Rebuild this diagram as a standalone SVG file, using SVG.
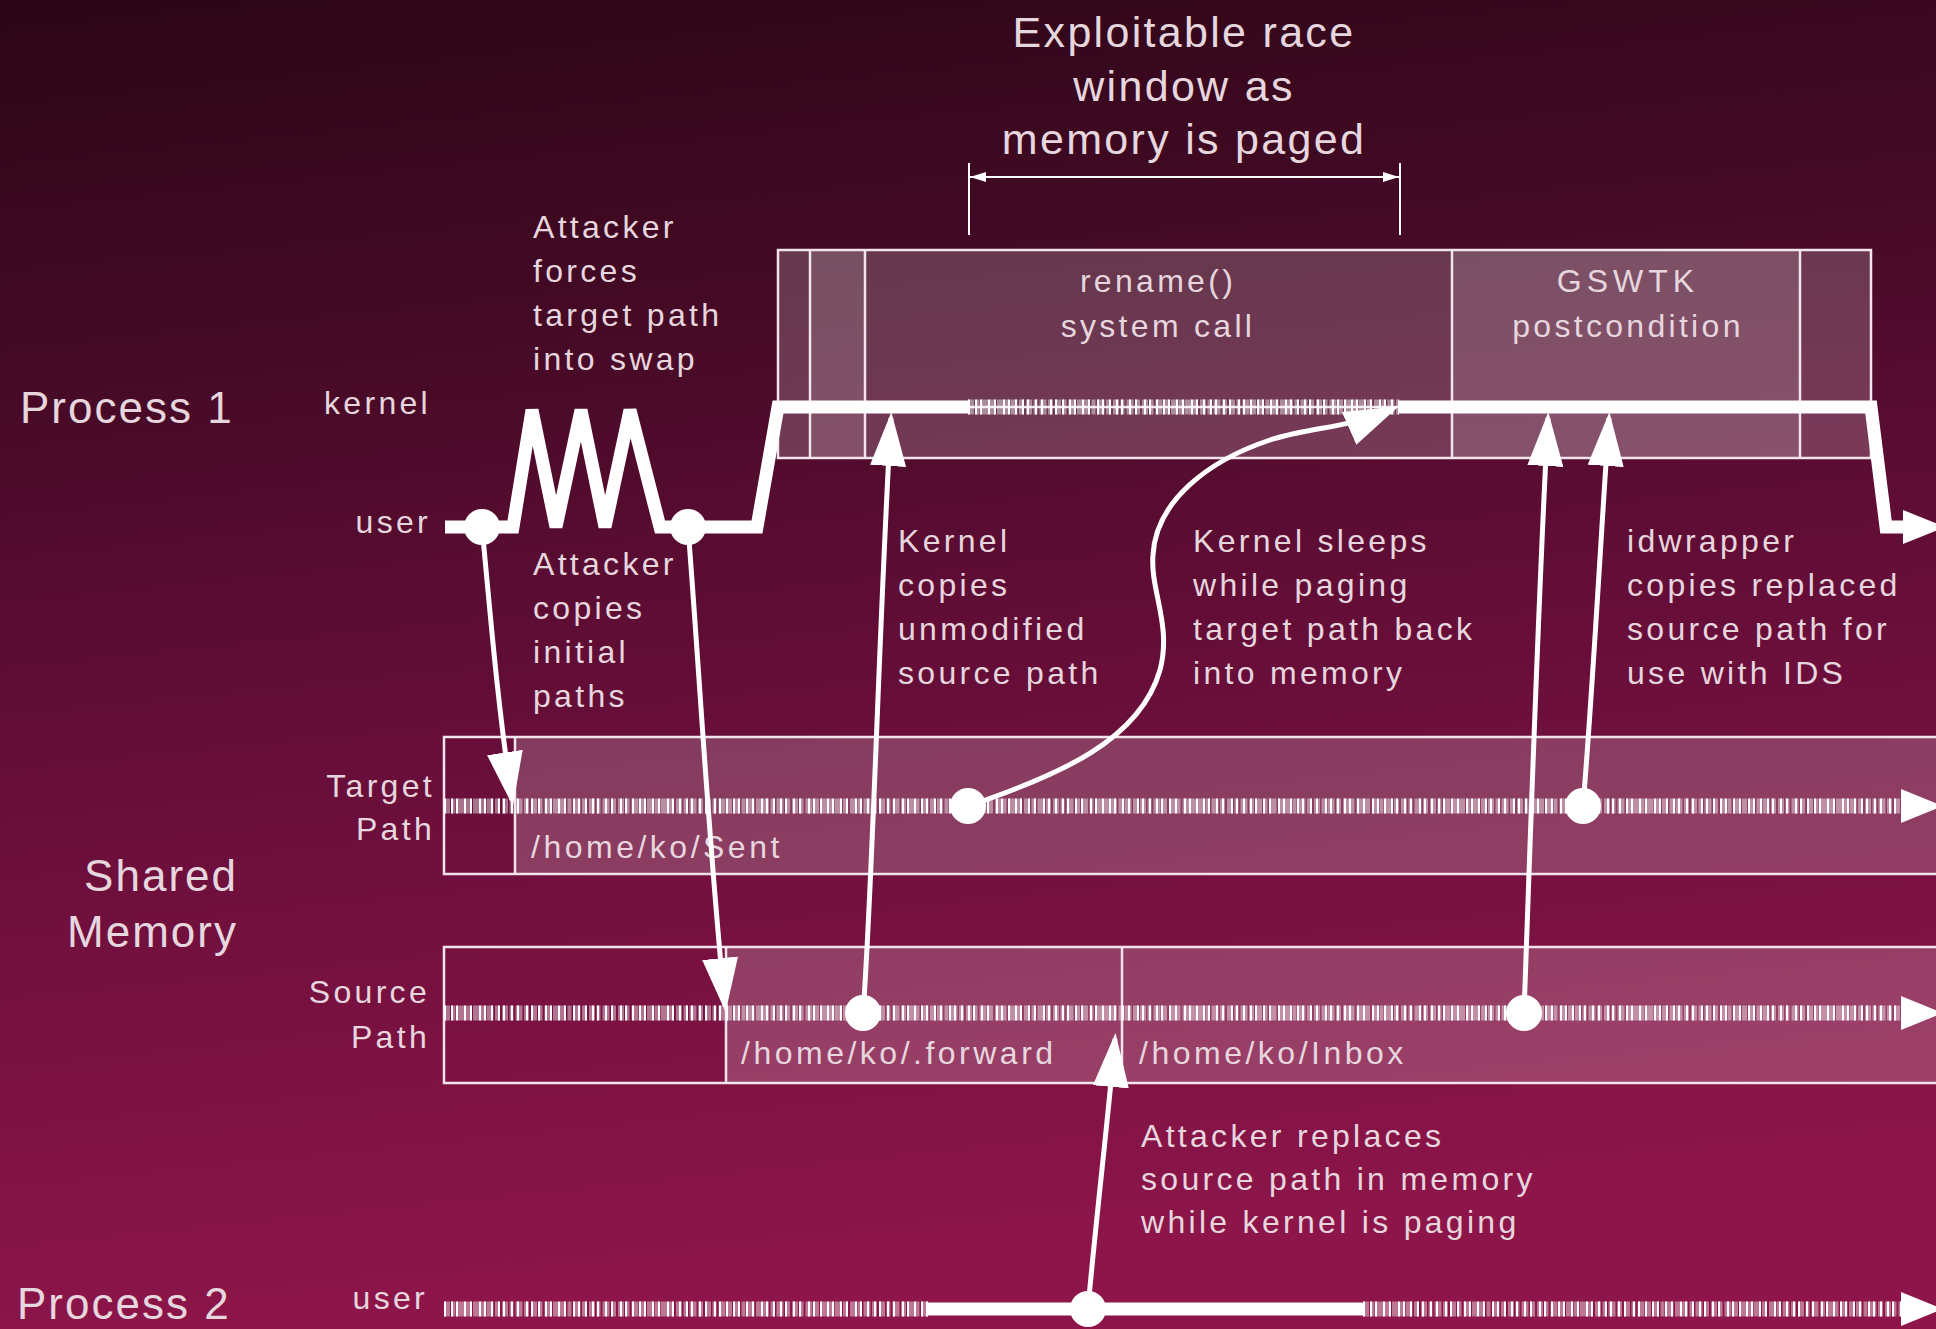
<svg xmlns="http://www.w3.org/2000/svg" width="1936" height="1329" viewBox="0 0 1936 1329">
<defs>
  <linearGradient id="bg" x1="0" y1="0" x2="0.15" y2="1">
    <stop offset="0" stop-color="#2c0616"/>
    <stop offset="0.3" stop-color="#470a27"/>
    <stop offset="0.6" stop-color="#690e3a"/>
    <stop offset="1" stop-color="#8d1549"/>
  </linearGradient>
  <marker id="ah" viewBox="0 0 54 36" markerWidth="54" markerHeight="36" markerUnits="userSpaceOnUse" refX="48" refY="18" orient="auto">
    <path d="M0,0 L54,18 L0,36 Z" fill="#fff"/>
  </marker>
  <marker id="tl" viewBox="0 0 42 34" markerWidth="42" markerHeight="34" markerUnits="userSpaceOnUse" refX="2" refY="17" orient="auto">
    <path d="M0,0 L42,17 L0,34 Z" fill="#fff"/>
  </marker>
  <marker id="dim" viewBox="0 0 16 10" markerWidth="16" markerHeight="10" markerUnits="userSpaceOnUse" refX="16" refY="5" orient="auto-start-reverse">
    <path d="M0,0 L16,5 L0,10 Z" fill="#fff"/>
  </marker>
</defs>
<style>
  .t { font-family: "Liberation Sans", Arial, sans-serif; font-size: 32px; letter-spacing: 3.3px; fill: #e6d6de; }
  .big { font-size: 44px; letter-spacing: 2px; }
  .title { font-size: 43px; letter-spacing: 2.3px; }
  .end { text-anchor: end; }
  .mid { text-anchor: middle; }
  .frame { fill: none; stroke: #f2e4ec; stroke-width: 2.5; }
  .div { stroke: #f2e4ec; stroke-width: 2.5; }
  .fill1 { fill: #ffffff; fill-opacity: 0.19; }
  .fill2 { fill: #ffffff; fill-opacity: 0.12; }
  .solid { fill: none; stroke: #fff; stroke-width: 13; stroke-linejoin: miter; stroke-miterlimit: 3; }
  .hbg { fill: none; stroke: #fff; stroke-opacity: 0.42; stroke-width: 15; stroke-dasharray: 6 1.5 4 2 7 1.5 5 2; }
  .hatch { fill: none; stroke: #fff; stroke-width: 15; stroke-dasharray: 2 5 2 3 2 6 2 4 2 7 2 3 2 5; }
  .arrow { fill: none; stroke: #fff; stroke-width: 5; marker-end: url(#ah); }
  .dot { fill: #fff; }
</style>
<rect x="0" y="0" width="1936" height="1329" fill="url(#bg)"/>

<g id="labels">
  <text class="t big" x="20" y="423">Process 1</text>
  <text class="t end" x="431" y="414">kernel</text>
  <text class="t end" x="431" y="533">user</text>
  <text class="t big end" x="238" y="891">Shared</text>
  <text class="t big end" x="238" y="947">Memory</text>
  <text class="t end" x="435" y="797">Target</text>
  <text class="t end" x="435" y="840">Path</text>
  <text class="t end" x="430" y="1003">Source</text>
  <text class="t end" x="430" y="1048">Path</text>
  <text class="t big" x="17" y="1319">Process 2</text>
  <text class="t end" x="428" y="1309">user</text>
</g>

<g id="race-window">
  <text class="t title mid" x="1184" y="47">Exploitable race</text>
  <text class="t title mid" x="1184" y="101">window as</text>
  <text class="t title mid" x="1184" y="154">memory is paged</text>
</g>

<g id="kernel-box">
  <rect class="fill1" x="778" y="250" width="1093" height="208"/>
  <rect class="fill2" x="810" y="250" width="55" height="208"/>
  <rect class="fill2" x="1452" y="250" width="348" height="208"/>
  <rect class="frame" x="778" y="250" width="1093" height="208"/>
  <line class="div" x1="810" y1="250" x2="810" y2="458"/>
  <line class="div" x1="865" y1="250" x2="865" y2="458"/>
  <line class="div" x1="1452" y1="250" x2="1452" y2="458"/>
  <line class="div" x1="1800" y1="250" x2="1800" y2="458"/>
  <line class="div" x1="778" y1="407" x2="1871" y2="407"/>
</g>
<g id="rename">
  <text class="t mid" x="1158" y="292">rename()</text>
  <text class="t mid" x="1158" y="337">system call</text>
</g>
<g id="gswtk">
  <text class="t mid" x="1628" y="292" style="letter-spacing:5px">GSWTK</text>
  <text class="t mid" x="1628" y="337">postcondition</text>
</g>

<g id="target-path">
  <rect class="fill1" x="515" y="737" width="1440" height="137"/>
  <rect class="frame" x="444" y="737" width="1520" height="137"/>
  <line class="div" x1="515" y1="737" x2="515" y2="874"/>
  <text class="t" x="531" y="858" style="letter-spacing:3.5px">/home/ko/Sent</text>
</g>

<g id="source-path">
  <rect class="fill1" x="726" y="947" width="1230" height="136"/>
  <rect class="frame" x="444" y="947" width="1520" height="136"/>
  <line class="div" x1="726" y1="947" x2="726" y2="1083"/>
  <line class="div" x1="1122" y1="947" x2="1122" y2="1083"/>
  <text class="t" x="741" y="1064" style="letter-spacing:3.5px">/home/ko/.forward</text>
  <text class="t" x="1139" y="1064" style="letter-spacing:3.5px">/home/ko/Inbox</text>
</g>

<g id="notes">
  <text class="t" x="533" y="238">Attacker</text>
  <text class="t" x="533" y="282">forces</text>
  <text class="t" x="533" y="326">target path</text>
  <text class="t" x="533" y="370">into swap</text>

  <text class="t" x="533" y="575">Attacker</text>
  <text class="t" x="533" y="619">copies</text>
  <text class="t" x="533" y="663">initial</text>
  <text class="t" x="533" y="707">paths</text>

  <text class="t" x="898" y="552">Kernel</text>
  <text class="t" x="898" y="596">copies</text>
  <text class="t" x="898" y="640">unmodified</text>
  <text class="t" x="898" y="684">source path</text>

  <text class="t" x="1193" y="552">Kernel sleeps</text>
  <text class="t" x="1193" y="596">while paging</text>
  <text class="t" x="1193" y="640">target path back</text>
  <text class="t" x="1193" y="684">into memory</text>

  <text class="t" x="1627" y="552">idwrapper</text>
  <text class="t" x="1627" y="596">copies replaced</text>
  <text class="t" x="1627" y="640">source path for</text>
  <text class="t" x="1627" y="684">use with IDS</text>

  <text class="t" x="1141" y="1147">Attacker replaces</text>
  <text class="t" x="1141" y="1190">source path in memory</text>
  <text class="t" x="1141" y="1233">while kernel is paging</text>
</g>

<g id="connectors">
  <!-- race window dimension -->
  <line x1="969" y1="163" x2="969" y2="235" stroke="#fff" stroke-width="2"/>
  <line x1="1400" y1="163" x2="1400" y2="235" stroke="#fff" stroke-width="2"/>
  <path d="M970,177 L1399,177" stroke="#fff" stroke-width="2" fill="none" marker-start="url(#dim)" marker-end="url(#dim)"/>

  <!-- Process 1 timeline -->
  <path class="solid" d="M445,527 L513,527 L532,410 L556,527 L581,410 L605,527 L630,410 L660,527 L757,527 L778,407 L968,407"/>
  <path class="hbg" d="M968,407 L1399,407"/>
  <path class="hatch" d="M968,407 L1399,407"/>
  <path class="solid" d="M1399,407 L1871,407 L1886,527 L1905,527" marker-end="url(#tl)"/>

  <!-- Target path timeline -->
  <path class="hbg" d="M444,806 L1903,806"/>
  <path class="hatch" d="M444,806 L1903,806" marker-end="url(#tl)"/>

  <!-- Source path timeline -->
  <path class="hbg" d="M444,1013 L1903,1013"/>
  <path class="hatch" d="M444,1013 L1903,1013" marker-end="url(#tl)"/>

  <!-- Process 2 timeline -->
  <path class="hbg" d="M444,1309 L928,1309"/>
  <path class="hatch" d="M444,1309 L928,1309"/>
  <path class="solid" d="M928,1309 L1363,1309"/>
  <path class="hbg" d="M1363,1309 L1903,1309"/>
  <path class="hatch" d="M1363,1309 L1903,1309" marker-end="url(#tl)"/>

  <!-- annotation arrows -->
  <path class="arrow" d="M482,527 C490,610 497,700 512,800"/>
  <path class="arrow" d="M688,527 C700,680 709,850 725,1006"/>
  <path class="arrow" d="M863,1013 C872,900 880,600 891,418"/>
  <path class="arrow" d="M968,806 C1060,775 1140,740 1160,670 C1172,625 1150,590 1153,555 C1156,500 1210,460 1270,440 C1310,427 1350,428 1393,409"/>
  <path class="arrow" d="M1524,1013 C1530,850 1538,600 1548,418"/>
  <path class="arrow" d="M1583,806 C1592,700 1600,550 1609,418"/>
  <path class="arrow" d="M1088,1308 C1098,1200 1108,1120 1115,1039"/>
</g>

<g id="events">
  <circle class="dot" cx="482" cy="527" r="18"/>
  <circle class="dot" cx="688" cy="527" r="18"/>
  <circle class="dot" cx="968" cy="806" r="18"/>
  <circle class="dot" cx="1583" cy="806" r="18"/>
  <circle class="dot" cx="863" cy="1013" r="18"/>
  <circle class="dot" cx="1524" cy="1013" r="18"/>
  <circle class="dot" cx="1088" cy="1309" r="18"/>
</g>
</svg>
